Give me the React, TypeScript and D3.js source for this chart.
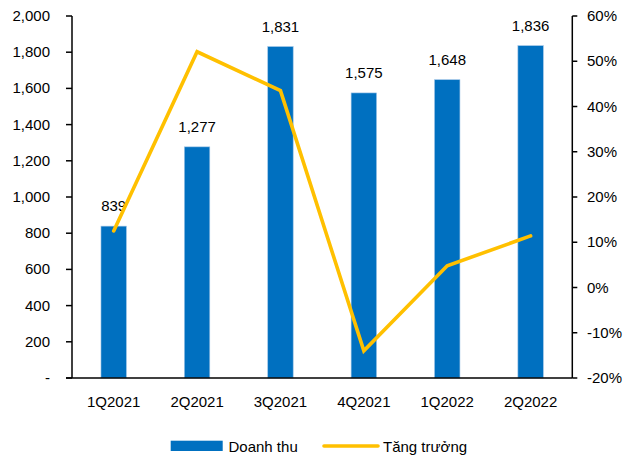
import React from "react";
import * as d3 from "d3";

const categories = ["1Q2021", "2Q2021", "3Q2021", "4Q2021", "1Q2022", "2Q2022"];
const revenue = [839, 1277, 1831, 1575, 1648, 1836];
const growth = [12.5, 52.1, 43.5, -14.0, 4.8, 11.4];
const leftTicks = [0, 200, 400, 600, 800, 1000, 1200, 1400, 1600, 1800, 2000];
const rightTicks = [-20, -10, 0, 10, 20, 30, 40, 50, 60];
const seriesNames = ["Doanh thu", "Tăng trưởng"];

const W = 637;
const H = 459;
const FONT = "'Liberation Sans', Arial, sans-serif";
const BLUE = "#0070C0";
const GOLD = "#FFC000";

export default function App() {
  const left = 72;
  const right = 572.3;
  const top = 16;
  const bottom = 378;

  const x = d3.scaleBand<string>().domain(categories).range([left, right]).paddingInner(0.695).paddingOuter(0.3475);
  const yL = d3.scaleLinear().domain([0, 2000]).range([bottom, top]);
  const yR = d3.scaleLinear().domain([-20, 60]).range([bottom, top]);
  const fmt = d3.format(",");
  const cx = (c: string) => (x(c) as number) + x.bandwidth() / 2;

  const line = d3
    .line<number>()
    .x((_, i) => cx(categories[i]))
    .y((d) => yR(d));

  return (
    <svg width={W} height={H} style={{ position: "absolute", left: 0, top: 0 }} fontFamily={FONT}>
      <rect width={W} height={H} fill="#fff" />
      {categories.map((c, i) => (
        <rect
          key={c}
          x={x(c)}
          y={yL(revenue[i])}
          width={x.bandwidth()}
          height={bottom - yL(revenue[i])}
          fill={BLUE}
          stroke="#9DC3E6"
          strokeWidth={0.6}
        />
      ))}
      {categories.map((c, i) => (
        <text key={"l" + c} x={cx(c)} y={yL(revenue[i]) - 15} textAnchor="middle" fontSize={15} fill="#000">
          {fmt(revenue[i])}
        </text>
      ))}
      <path d={line(growth) || ""} fill="none" stroke={GOLD} strokeWidth={3.6} strokeLinejoin="miter" strokeLinecap="round" />

      {/* left axis */}
      <line x1={left} x2={left} y1={top} y2={bottom} stroke="#000" strokeWidth={1.5} />
      {leftTicks.map((t) => (
        <g key={"lt" + t}>
          <line x1={left - 6} x2={left} y1={yL(t)} y2={yL(t)} stroke="#000" strokeWidth={1.5} />
          <text x={50} y={yL(t) + 5} textAnchor="end" fontSize={15} fill="#000">
            {t === 0 ? "-" : fmt(t)}
          </text>
        </g>
      ))}
      {/* right axis */}
      <line x1={right} x2={right} y1={top} y2={bottom} stroke="#000" strokeWidth={1.5} />
      {rightTicks.map((t) => (
        <g key={"rt" + t}>
          <line x1={right} x2={right + 5} y1={yR(t)} y2={yR(t)} stroke="#000" strokeWidth={1.5} />
          <text x={587} y={yR(t) + 5} textAnchor="start" fontSize={15} fill="#000">
            {t + "%"}
          </text>
        </g>
      ))}
      {/* x axis */}
      <line x1={left - 6} x2={right} y1={bottom} y2={bottom} stroke="#000" strokeWidth={1.5} />
      {categories.map((c) => (
        <text key={"x" + c} x={cx(c)} y={407} textAnchor="middle" fontSize={15} fill="#000">
          {c}
        </text>
      ))}

      {/* legend */}
      <rect x={170.7} y={440.7} width={52} height={10.3} fill={BLUE} />
      <text x={228.5} y={451.5} fontSize={15} fill="#000">
        {seriesNames[0]}
      </text>
      <line x1={324} x2={378} y1={446} y2={446} stroke={GOLD} strokeWidth={3.6} strokeLinecap="round" />
      <text x={383} y={451.5} fontSize={15} fill="#000">
        {seriesNames[1]}
      </text>
    </svg>
  );
}
